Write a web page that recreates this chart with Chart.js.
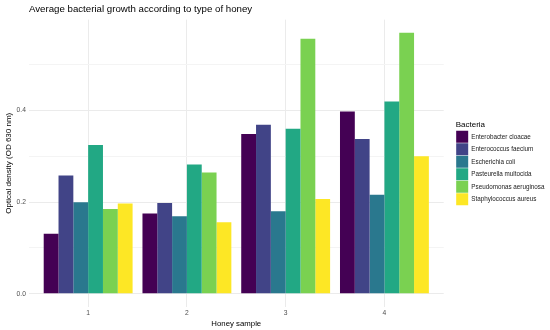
<!DOCTYPE html>
<html>
<head>
<meta charset="utf-8">
<script src="https://cdn.jsdelivr.net/npm/chart.js@4"></script>
<style>
  html, body { margin: 0; padding: 0; background: #fff; }
  #wrap { width: 550px; height: 330px; }
</style>
</head>
<body>
<div id="wrap"><canvas id="chart" width="550" height="330"></canvas></div>
<script>
const honeySamples = [1, 2, 3, 4];
const bacteria = ['Enterobacter cloacae', 'Enterococcus faecium', 'Escherichia coli',
                  'Pasteurella multocida', 'Pseudomonas aeruginosa', 'Staphylococcus aureus'];
const enterobacter = [0.131, 0.175, 0.349, 0.398];
const enterococcus = [0.258, 0.198, 0.369, 0.338];
const escherichia = [0.200, 0.169, 0.180, 0.216];
const pasteurella = [0.325, 0.282, 0.360, 0.420];
const pseudomonas = [0.185, 0.265, 0.557, 0.570];
const staphylococcus = [0.197, 0.156, 0.207, 0.300];
const yTicks = [0, 0.1, 0.2, 0.3, 0.4, 0.5];
const colors = ['#440154', '#414487', '#2A788E', '#22A884', '#7AD151', '#FDE725'];

const series = [enterobacter, enterococcus, escherichia, pasteurella, pseudomonas, staphylococcus];
const fontFam = '"Liberation Sans", Arial, sans-serif';
const legendGap = 12;
const legendShiftY = -2.8;

// leave an empty strip between the plot panel and the legend (like ggplot)
const legendSpacer = {
    id: 'legendSpacer',
    beforeUpdate(chart) {
        const lg = chart.legend;
        if (!lg || lg._spacerPatched) return;
        lg._spacerPatched = true;
        lg.afterFit = function () { this.width += legendGap; };
        const draw = lg.draw.bind(lg);
        lg.draw = function () {
            this.left += legendGap;
            this.right += legendGap;
            this.top += legendShiftY;
            this.bottom += legendShiftY;
            draw();
            this.left -= legendGap;
            this.right -= legendGap;
            this.top -= legendShiftY;
            this.bottom -= legendShiftY;
        };
    },
};

const ctx = document.getElementById('chart');
new Chart(ctx, {
    type: 'bar',
    data: {
        datasets: series.map((vals, i) => ({
            label: bacteria[i],
            data: vals.map((v, j) => ({ x: honeySamples[j], y: v })),
            backgroundColor: colors[i],
            borderWidth: 0,
            barPercentage: 1,
            categoryPercentage: 0.9,
        })),
    },
    plugins: [legendSpacer],
    options: {
        responsive: false,
        animation: false,
        layout: { padding: { top: 3.5, left: 4, right: 7.5, bottom: 1.8 } },
        plugins: {
            title: {
                display: true,
                text: 'Average bacterial growth according to type of honey',
                align: 'start',
                fullSize: false,
                color: '#000',
                font: { family: fontFam, size: 9.7, weight: 'normal' },
                padding: { top: 0, bottom: 4.5 },
            },
            legend: {
                display: true,
                position: 'right',
                align: 'center',
                title: {
                    display: true,
                    text: 'Bacteria',
                    position: 'start',
                    color: '#000',
                    font: { family: fontFam, size: 8 },
                    padding: { top: 0, bottom: 0.4 },
                },
                labels: {
                    boxWidth: 12,
                    boxHeight: 12,
                    padding: 0.5,
                    color: '#1a1a1a',
                    font: { family: fontFam, size: 6.3 },
                },
            },
            tooltip: { enabled: false },
        },
        scales: {
            x: {
                type: 'linear',
                offset: false,
                min: 0.4,
                max: 4.6,
                afterBuildTicks: (s) => { s.ticks = honeySamples.map(v => ({ value: v })); },
                ticks: {
                    color: '#4d4d4d',
                    padding: 2,
                    font: { family: fontFam, size: 6.7 },
                    callback: (v) => String(v),
                },
                grid: { color: '#ebebeb', drawTicks: false, offset: false },
                border: { display: false },
                title: {
                    display: true,
                    text: 'Honey sample',
                    color: '#000',
                    font: { family: fontFam, size: 7.8 },
                    padding: { top: 0, bottom: 0 },
                },
            },
            y: {
                min: -0.0285,
                max: 0.5985,
                afterBuildTicks: (s) => { s.ticks = yTicks.map(v => ({ value: v })); },
                ticks: {
                    color: '#4d4d4d',
                    padding: 3,
                    font: { family: fontFam, size: 6.7 },
                    callback: (v) => (Math.round(v * 10) % 2 === 0 ? v.toFixed(1) : ''),
                },
                grid: {
                    drawTicks: false,
                    color: (c) => (Math.round(c.tick.value * 10) % 2 === 0 ? '#ebebeb' : '#f4f4f4'),
                },
                border: { display: false },
                title: {
                    display: true,
                    text: 'Optical density (OD 630 nm)',
                    color: '#000',
                    font: { family: fontFam, size: 8 },
                    padding: { top: 0, bottom: 0 },
                },
            },
        },
    },
});
</script>
</body>
</html>
